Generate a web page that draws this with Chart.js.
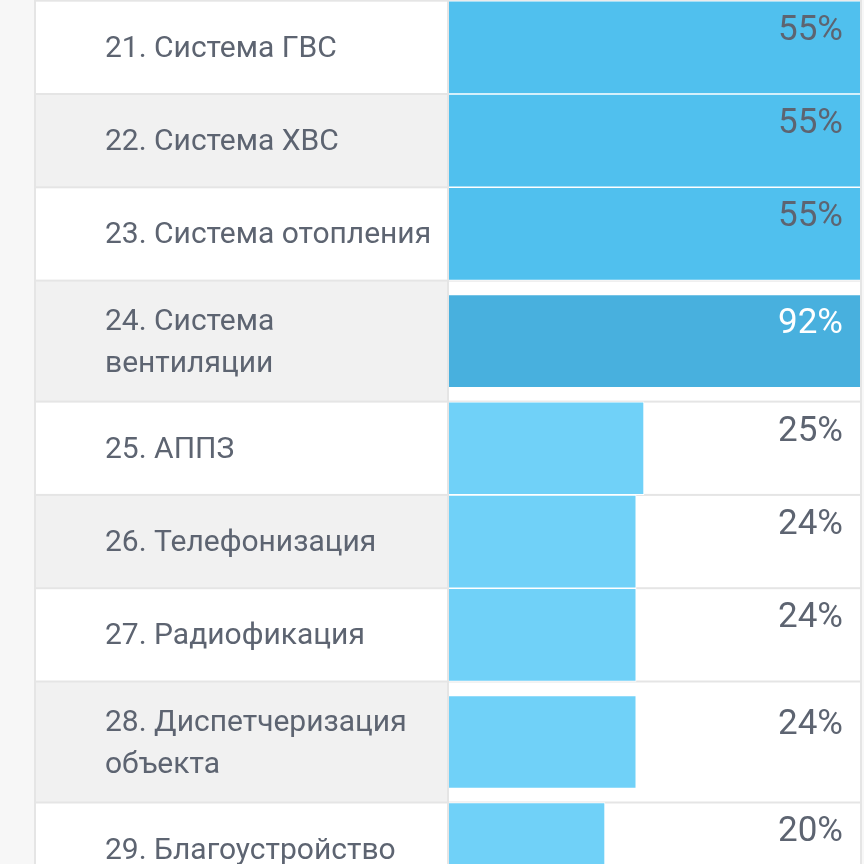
<!DOCTYPE html>
<html>
<head>
<meta charset="utf-8">
<script src="https://cdn.jsdelivr.net/npm/chart.js@4"></script>
<style>
  html, body { margin: 0; padding: 0; background: #fff; }
  #wrap { width: 864px; height: 864px; }
</style>
</head>
<body>
<div id="wrap"><canvas id="chart" width="864" height="864"></canvas></div>
<script>
// checklist rows, top to bottom (arrays = label wraps to two lines)
const labels = [
  '21. Система ГВС',
  '22. Система ХВС',
  '23. Система отопления',
  ['24. Система', 'вентиляции'],
  '25. АППЗ',
  '26. Телефонизация',
  '27. Радиофикация',
  ['28. Диспетчеризация', 'объекта'],
  '29. Благоустройство'
];
const percents = [55, 55, 55, 92, 25, 24, 24, 24, 20];

// row layout: two-line rows are taller
const ROW_H = 93.3, ROW_H2 = 121, FIRST_TOP = 0.7, LABEL_DY = 2;
const rowTops = [], rowHeights = [], rowCenters = [];
let acc = FIRST_TOP;
labels.forEach(l => {
  const h = Array.isArray(l) ? ROW_H2 : ROW_H;
  rowTops.push(acc);
  rowHeights.push(h);
  rowCenters.push(acc + h / 2);
  acc += h;
});

const TEXT = '#5d6471';

function barColor(v) {
  if (v > 90) return '#48b0de';
  if (v >= 50) return '#50c0ee';
  return '#70d1f8';
}

// table background: side strip, striped label cells, grid lines
const tablePlugin = {
  id: 'table',
  beforeDraw(chart) {
    const { ctx, chartArea } = chart;
    const ys = chart.scales.y;
    ctx.save();
    ctx.fillStyle = '#f7f7f7';
    ctx.fillRect(0, 0, chart.width, chart.height);
    rowTops.forEach((t, i) => {
      const top = ys.getPixelForValue(t);
      const bot = ys.getPixelForValue(t + rowHeights[i]);
      ctx.fillStyle = i % 2 ? '#f1f1f1' : '#ffffff';
      ctx.fillRect(36, top, chartArea.left - 36, bot - top);
      ctx.fillStyle = '#ffffff';
      ctx.fillRect(chartArea.left, top, chartArea.right - chartArea.left, bot - top);
    });
    ctx.fillStyle = '#e5e5e5';
    rowTops.forEach(t => ctx.fillRect(35, ys.getPixelForValue(t) - 1, chartArea.right - 33, 2));
    ctx.fillRect(34, 0, 2, chart.height);
    ctx.fillRect(chartArea.left - 2, 0, 2, chart.height);
    ctx.fillRect(chartArea.right, 0, 2, chart.height);
    ctx.restore();
  },
  afterDatasetsDraw(chart) {
    const { ctx, chartArea } = chart;
    const meta = chart.getDatasetMeta(0);
    ctx.save();
    ctx.font = '35px Roboto';
    ctx.textAlign = 'right';
    ctx.textBaseline = 'middle';
    meta.data.forEach((bar, i) => {
      const top = bar.y - bar.height / 2;
      ctx.fillStyle = percents[i] > 90 ? '#ffffff' : TEXT;
      ctx.fillText(percents[i] + '%', chartArea.right - 17, top + 30);
    });
    ctx.restore();
  }
};

new Chart(document.getElementById('chart'), {
  type: 'bar',
  data: {
    datasets: [{
      data: percents.map((v, i) => ({ x: v, y: rowCenters[i] })),
      backgroundColor: ctx => barColor(ctx.raw ? ctx.raw.x : 0),
      borderColor: '#ffffff',
      borderWidth: 1,
      borderSkipped: 'start',
      barThickness: 93,
      clip: 0
    }]
  },
  options: {
    indexAxis: 'y',
    responsive: false,
    animation: false,
    devicePixelRatio: 1,
    layout: { padding: { left: 105, right: 4, top: 0, bottom: 0 } },
    plugins: { legend: { display: false }, tooltip: { enabled: false } },
    scales: {
      x: { type: 'linear', min: 0, max: 52.7, display: false }, // 1% = 7.8px, bars past the column are cut off
      y: {
        type: 'linear',
        reverse: true,
        offset: false,
        min: 0,
        max: 864,
        afterBuildTicks: s => { s.ticks = rowCenters.map(v => ({ value: v + LABEL_DY })); },
        afterFit: s => {
          s.width = 344;
          s.paddingTop = 0;
          s.paddingBottom = 0;
        },
        grid: { display: false, offset: false },
        border: { display: false },
        ticks: {
          autoSkip: false,
          crossAlign: 'far',
          padding: 0,
          color: TEXT,
          font: { family: 'Roboto', size: 30, lineHeight: 1.4 },
          callback: (v, i) => labels[i]
        }
      }
    }
  },
  plugins: [tablePlugin]
});
</script>
</body>
</html>
